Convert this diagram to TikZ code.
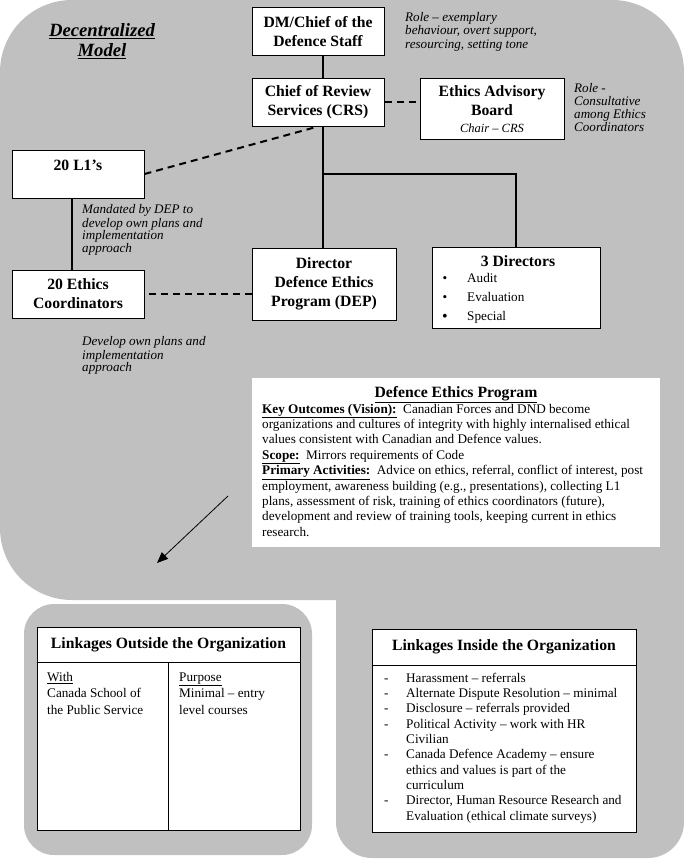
\documentclass[tikz,border=0pt]{standalone}
\usepackage{fontspec}
\setmainfont{Liberation Serif}
\usetikzlibrary{arrows.meta}
\definecolor{bggray}{RGB}{192,192,192}
\newcommand\setfs[2]{\fontsize{#1}{#2}\selectfont}
\newcommand\dsh{\makebox[22pt][l]{-}}
\newcommand\contind{\hspace*{22pt}}
\begin{document}
\begin{tikzpicture}[x=1pt,y=-1pt,
  orgbox/.style={draw, fill=white, line width=1pt, inner sep=0pt, align=center, font={\bfseries\setfs{15.7}{19}}},
  boldtxt/.style={inner sep=0pt, align=center, font={\bfseries\setfs{15.7}{19}}},
  conn/.style={line width=2pt},
  dconn/.style={line width=2pt, dash pattern=on 7pt off 5pt},
  note/.style={font={\itshape\setfs{13.1}{13.5}}, align=left, anchor=north west, inner sep=0pt},
  bodytext/.style={font={\setfs{13.2}{15.37}}, align=left, anchor=north west, inner sep=0pt},
  plain/.style={font={\setfs{13.2}{15.37}}, inner sep=0pt},
  tbl/.style={draw, fill=white, line width=1pt, inner sep=0pt},
  hdr/.style={font={\bfseries\setfs{15.7}{19}}, anchor=base, inner sep=0pt}
]
\useasboundingbox (0,0) rectangle (684,859);
% grey background
\fill[bggray, rounded corners=72pt] (0,0) rectangle (684,600);
\fill[bggray, rounded corners=36pt] (336,450) rectangle (684,858);
\fill[bggray, rounded corners=30pt] (24,604) rectangle (312,855);

% title
\node[font={\bfseries\itshape\setfs{18.7}{20}}, align=center, anchor=north, inner sep=0pt] (title) at (102,22) {\strut\underline{Decentralized}\\\underline{Model}};

% org boxes
\node[orgbox, minimum width=132pt, minimum height=48pt] (dm) at (318,32) {DM/Chief of the\\Defence Staff};
\node[orgbox, minimum width=132pt, minimum height=48pt] (crs) at (318,102) {Chief of Review\\Services (CRS)};
\node[orgbox, minimum width=144pt, minimum height=61pt] (eab) at (492,108.5) {};
\node[boldtxt] (eabt) at (492,100.5) {Ethics Advisory\\Board};
\node[font={\itshape\setfs{12.5}{13}}, anchor=base, inner sep=0pt] (eabc) at (492,132) {Chair – CRS};

\node[orgbox, minimum width=132pt, minimum height=48pt] (l1) at (78,174) {};
\node[boldtxt, anchor=base] (l1t) at (78,170) {20 L1’s};
\node[orgbox, minimum width=132pt, minimum height=48pt] (ec) at (78,294) {20 Ethics\\Coordinators};
\node[orgbox, minimum width=144pt, minimum height=72pt] (dep) at (324,284) {Director\\Defence Ethics\\Program (DEP)};

\node[orgbox, minimum width=168pt, minimum height=81pt] (dirs) at (516,287.5) {};
\node[boldtxt, anchor=base] (dirst) at (518,266) {3 Directors};
\node[plain, anchor=base] (b1) at (445,282) {\textbullet};
\node[plain, anchor=base] (b2) at (445,301) {\textbullet};
\node[plain, anchor=base, font={\setfs{16}{16}}] (b3) at (445,321) {\textbullet};
\node[plain, anchor=base west] (d1) at (467,282) {Audit};
\node[plain, anchor=base west] (d2) at (467,301) {Evaluation};
\node[plain, anchor=base west] (d3) at (467,320) {Special};

% notes
\node[note] (role1) at (405,11.5) {\strut Role – exemplary\\behaviour, overt support,\\resourcing, setting tone};
\node[note, font={\itshape\setfs{13.1}{13}}] (role2) at (574,83) {\strut Role -\\Consultative\\among Ethics\\Coordinators};
\node[note, font={\itshape\setfs{13.1}{12.4}}] (mand) at (82,204.3) {\strut Mandated by DEP to\\develop own plans and\\implementation\\approach};
\node[note, font={\itshape\setfs{13.1}{12.5}}] (devl) at (82,336.3) {\strut Develop own plans and\\implementation\\approach};

% connectors
\coordinate (sp) at (323,0);
\coordinate (br) at (323,174);
\coordinate (lx) at (72,0);
\draw[conn] (dm.south -| sp) -- (crs.north -| sp);
\draw[conn] (crs.south -| sp) -- (dep.north -| sp);
\draw[conn] (br) -| (dirs.north);
\draw[dconn] (crs.east) -- (crs.east -| eab.west);
\draw[dconn] (l1.east) -- (crs.south);
\draw[conn] (l1.south -| lx) -- (ec.north -| lx);
\draw[dconn] ([xshift=4pt]ec.east) -- (ec.east -| dep.west);

% Defence Ethics Program box
\node[fill=white, minimum width=408pt, minimum height=169pt, inner sep=0pt] (prog) at (456,462.5) {};
\node[hdr] (progt) at (456,397) {\underline{Defence Ethics Program}};
\node[bodytext] (progb) at (262,402.2) {\strut\textbf{\underline{Key Outcomes (Vision):}}\ \ Canadian Forces and DND become\\
organizations and cultures of integrity with highly internalised ethical\\
values consistent with Canadian and Defence values.\\
\textbf{\underline{Scope:}}\ \ Mirrors requirements of Code\\
\textbf{\underline{Primary Activities:}}\ \ Advice on ethics, referral, conflict of interest, post\\
employment, awareness building (e.g., presentations), collecting L1\\
plans, assessment of risk, training of ethics coordinators (future),\\
development and review of training tools, keeping current in ethics\\
research.};

% arrow
\coordinate (arrS) at (228,496);
\coordinate (arrE) at (157,563);
\draw[line width=0.8pt, -{Triangle[length=11pt,width=9pt]}] (arrS) -- (arrE);

% outside linkages
\node[tbl, minimum width=263pt, minimum height=203pt] (out) at (168.5,728.5) {};
\coordinate (osep) at (0,662);
\coordinate (odiv) at (168,0);
\draw[line width=1pt] (out.west |- osep) -- (out.east |- osep);
\draw[line width=1pt] (odiv |- osep) -- (odiv |- out.south);
\node[hdr] (outh) at (168.5,648) {Linkages Outside the Organization};
\node[bodytext, font={\setfs{13.2}{16.7}}] (with) at (47,669.3) {\strut\underline{With}\\Canada School of\\the Public Service};
\node[bodytext, font={\setfs{13.2}{16.7}}] (purp) at (179,669.3) {\strut\underline{Purpose}\\Minimal – entry\\level courses};

% inside linkages
\node[tbl, minimum width=264pt, minimum height=203pt] (in) at (504,730.5) {};
\coordinate (isep) at (0,665);
\draw[line width=1pt] (in.west |- isep) -- (in.east |- isep);
\node[hdr] (inh) at (504,650) {Linkages Inside the Organization};
\node[bodytext, font={\setfs{13.2}{15.33}}] (inl) at (384,671.3) {\strut\dsh Harassment – referrals\\
\dsh Alternate Dispute Resolution – minimal\\
\dsh Disclosure – referrals provided\\
\dsh Political Activity – work with HR\\
\contind Civilian\\
\dsh Canada Defence Academy – ensure\\
\contind ethics and values is part of the\\
\contind curriculum\\
\dsh Director, Human Resource Research and\\
\contind Evaluation (ethical climate surveys)};
\end{tikzpicture}
\end{document}
